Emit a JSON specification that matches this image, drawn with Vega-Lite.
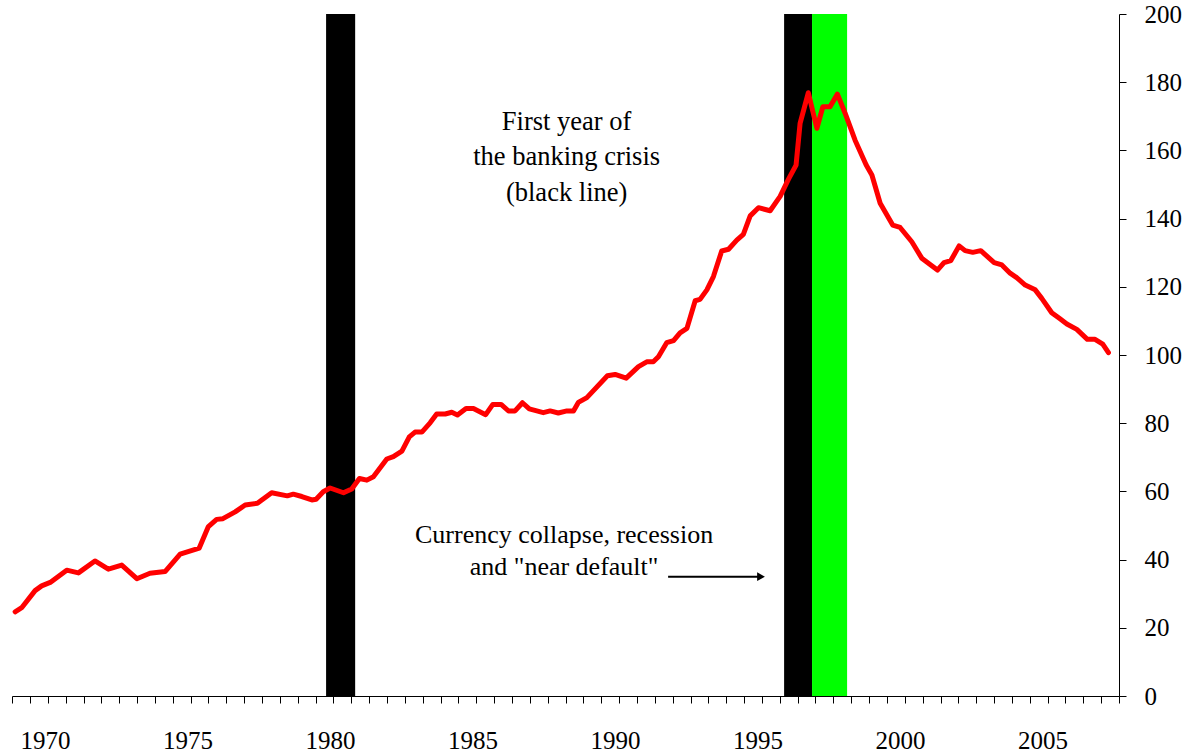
{
  "$schema": "https://vega.github.io/schema/vega-lite/v6.json",
  "width": 1107,
  "height": 682,
  "autosize": "none",
  "padding": {"left": 12, "top": 14, "right": 67, "bottom": 59},
  "background": "white",
  "config": {"view": {"stroke": null}, "font": "Liberation Serif, Times New Roman, serif", "axis": {"grid": false}},
  "datasets": {
    "bands": [
      {"start": 1979.86, "end": 1980.88, "kind": "First year of banking crisis"},
      {"start": 1995.93, "end": 1996.91, "kind": "First year of banking crisis"},
      {"start": 1996.91, "end": 1998.14, "kind": "Currency collapse"}
    ],
    "series": [
      {"year": 1968.95, "value": 24.7}, {"year": 1969.18, "value": 25.9}, {"year": 1969.65, "value": 30.9},
      {"year": 1969.88, "value": 32.3}, {"year": 1970.18, "value": 33.3}, {"year": 1970.76, "value": 36.9},
      {"year": 1971.17, "value": 36.1}, {"year": 1971.75, "value": 39.6}, {"year": 1972.22, "value": 37.2},
      {"year": 1972.69, "value": 38.4}, {"year": 1973.22, "value": 34.4}, {"year": 1973.68, "value": 36.0},
      {"year": 1974.21, "value": 36.5}, {"year": 1974.74, "value": 41.6}, {"year": 1975.41, "value": 43.4},
      {"year": 1975.73, "value": 49.7}, {"year": 1976.02, "value": 51.8}, {"year": 1976.24, "value": 52.0},
      {"year": 1976.67, "value": 54.0}, {"year": 1977.02, "value": 56.0}, {"year": 1977.45, "value": 56.5},
      {"year": 1977.95, "value": 59.6}, {"year": 1978.5, "value": 58.7}, {"year": 1978.71, "value": 59.2},
      {"year": 1979.01, "value": 58.5}, {"year": 1979.36, "value": 57.5}, {"year": 1979.51, "value": 57.7},
      {"year": 1979.76, "value": 59.9}, {"year": 1980.0, "value": 61.0}, {"year": 1980.47, "value": 59.6},
      {"year": 1980.76, "value": 60.7}, {"year": 1981.03, "value": 63.8}, {"year": 1981.29, "value": 63.3},
      {"year": 1981.52, "value": 64.3}, {"year": 1981.99, "value": 69.5}, {"year": 1982.22, "value": 70.2},
      {"year": 1982.52, "value": 71.8}, {"year": 1982.78, "value": 76.0}, {"year": 1982.98, "value": 77.4},
      {"year": 1983.22, "value": 77.4}, {"year": 1983.51, "value": 80.1}, {"year": 1983.74, "value": 82.7},
      {"year": 1984.04, "value": 82.7}, {"year": 1984.27, "value": 83.2}, {"year": 1984.47, "value": 82.4},
      {"year": 1984.77, "value": 84.3}, {"year": 1985.03, "value": 84.3}, {"year": 1985.46, "value": 82.5},
      {"year": 1985.71, "value": 85.5}, {"year": 1986.0, "value": 85.5}, {"year": 1986.26, "value": 83.6},
      {"year": 1986.49, "value": 83.6}, {"year": 1986.75, "value": 86.0}, {"year": 1986.99, "value": 84.2},
      {"year": 1987.48, "value": 83.1}, {"year": 1987.72, "value": 83.6}, {"year": 1988.01, "value": 83.0},
      {"year": 1988.31, "value": 83.6}, {"year": 1988.54, "value": 83.6}, {"year": 1988.71, "value": 86.1},
      {"year": 1989.01, "value": 87.5}, {"year": 1989.73, "value": 93.9}, {"year": 1990.0, "value": 94.3},
      {"year": 1990.39, "value": 93.2}, {"year": 1990.82, "value": 96.6}, {"year": 1991.11, "value": 98.0},
      {"year": 1991.34, "value": 98.0}, {"year": 1991.52, "value": 99.5}, {"year": 1991.81, "value": 103.6},
      {"year": 1992.05, "value": 104.2}, {"year": 1992.28, "value": 106.5}, {"year": 1992.52, "value": 107.8},
      {"year": 1992.81, "value": 115.9}, {"year": 1992.98, "value": 116.3}, {"year": 1993.22, "value": 119.1},
      {"year": 1993.45, "value": 123.0}, {"year": 1993.74, "value": 130.5}, {"year": 1993.98, "value": 131.0},
      {"year": 1994.27, "value": 133.7}, {"year": 1994.5, "value": 135.4}, {"year": 1994.74, "value": 140.8},
      {"year": 1995.03, "value": 143.2}, {"year": 1995.44, "value": 142.3}, {"year": 1995.79, "value": 146.5},
      {"year": 1996.08, "value": 151.5}, {"year": 1996.35, "value": 155.7}, {"year": 1996.49, "value": 167.9},
      {"year": 1996.78, "value": 176.9}, {"year": 1997.08, "value": 166.5}, {"year": 1997.29, "value": 172.8},
      {"year": 1997.54, "value": 172.8}, {"year": 1997.8, "value": 176.5}, {"year": 1998.07, "value": 170.9},
      {"year": 1998.42, "value": 163.0}, {"year": 1998.81, "value": 155.7}, {"year": 1999.01, "value": 152.8},
      {"year": 1999.3, "value": 144.5}, {"year": 1999.74, "value": 138.1}, {"year": 2000.0, "value": 137.4},
      {"year": 2000.41, "value": 133.2}, {"year": 2000.76, "value": 128.4}, {"year": 2001.31, "value": 124.9},
      {"year": 2001.54, "value": 127.1}, {"year": 2001.78, "value": 127.7}, {"year": 2002.07, "value": 132.0},
      {"year": 2002.28, "value": 130.6}, {"year": 2002.55, "value": 130.1}, {"year": 2002.83, "value": 130.6},
      {"year": 2003.3, "value": 127.1}, {"year": 2003.57, "value": 126.4}, {"year": 2003.86, "value": 124.0},
      {"year": 2004.09, "value": 122.7}, {"year": 2004.39, "value": 120.5}, {"year": 2004.74, "value": 119.1},
      {"year": 2004.97, "value": 116.6}, {"year": 2005.32, "value": 112.4}, {"year": 2005.61, "value": 110.6},
      {"year": 2005.85, "value": 109.1}, {"year": 2006.2, "value": 107.5}, {"year": 2006.57, "value": 104.6},
      {"year": 2006.84, "value": 104.6}, {"year": 2007.11, "value": 103.2}, {"year": 2007.31, "value": 100.7}
    ]
  },
  "layer": [
    {
      "data": {"name": "bands"},
      "mark": {"type": "rect"},
      "encoding": {
        "x": {
          "field": "start", "type": "quantitative",
          "scale": {"domain": [1968.84, 2007.68], "nice": false, "zero": false},
          "axis": {
            "orient": "bottom", "title": null, "labels": false, "grid": false,
            "values": [1968.84, 1969.47, 1970.09, 1970.72, 1971.35, 1971.97, 1972.6, 1973.23, 1973.85, 1974.48, 1975.11, 1975.73, 1976.36, 1976.98, 1977.61, 1978.24, 1978.86, 1979.49, 1980.12, 1980.74, 1981.37, 1982.0, 1982.62, 1983.25, 1983.88, 1984.5, 1985.13, 1985.76, 1986.38, 1987.01, 1987.64, 1988.26, 1988.89, 1989.51, 1990.14, 1990.77, 1991.39, 1992.02, 1992.65, 1993.27, 1993.9, 1994.53, 1995.15, 1995.78, 1996.41, 1997.03, 1997.66, 1998.28, 1998.91, 1999.54, 2000.16, 2000.79, 2001.42, 2002.04, 2002.67, 2003.3, 2003.92, 2004.55, 2005.18, 2005.8, 2006.43, 2007.06, 2007.68],
            "tickSize": 7, "tickColor": "black", "tickWidth": 1,
            "domainColor": "black", "domainWidth": 1
          }
        },
        "x2": {"field": "end"},
        "y": {
          "datum": 0, "type": "quantitative",
          "scale": {"domain": [0, 200], "nice": false, "zero": true},
          "axis": {
            "orient": "right", "title": null, "grid": false,
            "values": [0, 20, 40, 60, 80, 100, 120, 140, 160, 180, 200],
            "tickSize": 7, "tickColor": "black", "domainColor": "black",
            "labelFont": "Liberation Serif, Times New Roman, serif", "labelFontSize": 25, "labelColor": "black",
            "labelPadding": 18, "labelFlush": false
          }
        },
        "y2": {"datum": 200},
        "color": {
          "field": "kind", "type": "nominal",
          "scale": {"domain": ["First year of banking crisis", "Currency collapse"], "range": ["#000000", "#00FF00"]},
          "legend": null
        }
      }
    },
    {
      "data": {"name": "series"},
      "mark": {"type": "line", "color": "#FF0000", "strokeWidth": 5, "strokeJoin": "round", "strokeCap": "round"},
      "encoding": {
        "x": {
          "field": "year", "type": "quantitative",
          "scale": {"domain": [1968.84, 2007.68], "nice": false, "zero": false},
          "axis": {
            "orient": "bottom", "title": null, "grid": false, "ticks": false, "tickSize": 0, "domain": false,
            "values": [1970, 1975, 1980, 1985, 1990, 1995, 2000, 2005],
            "format": "d",
            "labelFont": "Liberation Serif, Times New Roman, serif", "labelFontSize": 25, "labelColor": "black",
            "labelBaseline": "alphabetic", "labelPadding": 52, "labelFlush": false, "labelOverlap": false
          }
        },
        "y": {
          "field": "value", "type": "quantitative",
          "scale": {"domain": [0, 200], "nice": false, "zero": true},
          "axis": {
            "orient": "right", "title": null, "grid": false,
            "values": [0, 20, 40, 60, 80, 100, 120, 140, 160, 180, 200],
            "tickSize": 7, "tickColor": "black", "domainColor": "black",
            "labelFont": "Liberation Serif, Times New Roman, serif", "labelFontSize": 25, "labelColor": "black",
            "labelPadding": 18, "labelFlush": false
          }
        }
      }
    },
    {
      "data": {"values": [{}]},
      "mark": {"type": "rule", "color": "black", "strokeWidth": 2},
      "encoding": {
        "x": {"datum": 1991.86, "type": "quantitative", "scale": {"domain": [1968.84, 2007.68], "nice": false, "zero": false}, "axis": null},
        "x2": {"datum": 1995.05},
        "y": {"datum": 35.0, "type": "quantitative", "scale": {"domain": [0, 200], "nice": false, "zero": true}}
      }
    },
    {
      "data": {"values": [{}]},
      "mark": {"type": "point", "shape": "triangle-right", "filled": true, "color": "black", "size": 80, "opacity": 1},
      "encoding": {
        "x": {"datum": 1995.12, "type": "quantitative", "scale": {"domain": [1968.84, 2007.68], "nice": false, "zero": false}, "axis": null},
        "y": {"datum": 35.0, "type": "quantitative", "scale": {"domain": [0, 200], "nice": false, "zero": true}}
      }
    },
    {
      "data": {"values": [{}]},
      "mark": {"type": "text", "text": ["First year of", "the banking crisis", "(black line)"], "font": "Liberation Serif, Times New Roman, serif", "fontSize": 26.5, "lineHeight": 35.5, "align": "center", "baseline": "middle", "color": "black"},
      "encoding": {
        "x": {"datum": 1988.3, "type": "quantitative", "scale": {"domain": [1968.84, 2007.68], "nice": false, "zero": false}, "axis": null},
        "y": {"datum": 168.4, "type": "quantitative", "scale": {"domain": [0, 200], "nice": false, "zero": true}}
      }
    },
    {
      "data": {"values": [{}]},
      "mark": {"type": "text", "text": ["Currency collapse, recession", "and \"near default\""], "font": "Liberation Serif, Times New Roman, serif", "fontSize": 26, "lineHeight": 32, "align": "center", "baseline": "middle", "color": "black"},
      "encoding": {
        "x": {"datum": 1988.21, "type": "quantitative", "scale": {"domain": [1968.84, 2007.68], "nice": false, "zero": false}, "axis": null},
        "y": {"datum": 47.2, "type": "quantitative", "scale": {"domain": [0, 200], "nice": false, "zero": true}}
      }
    }
  ],
  "resolve": {"axis": {"x": "independent"}}
}
